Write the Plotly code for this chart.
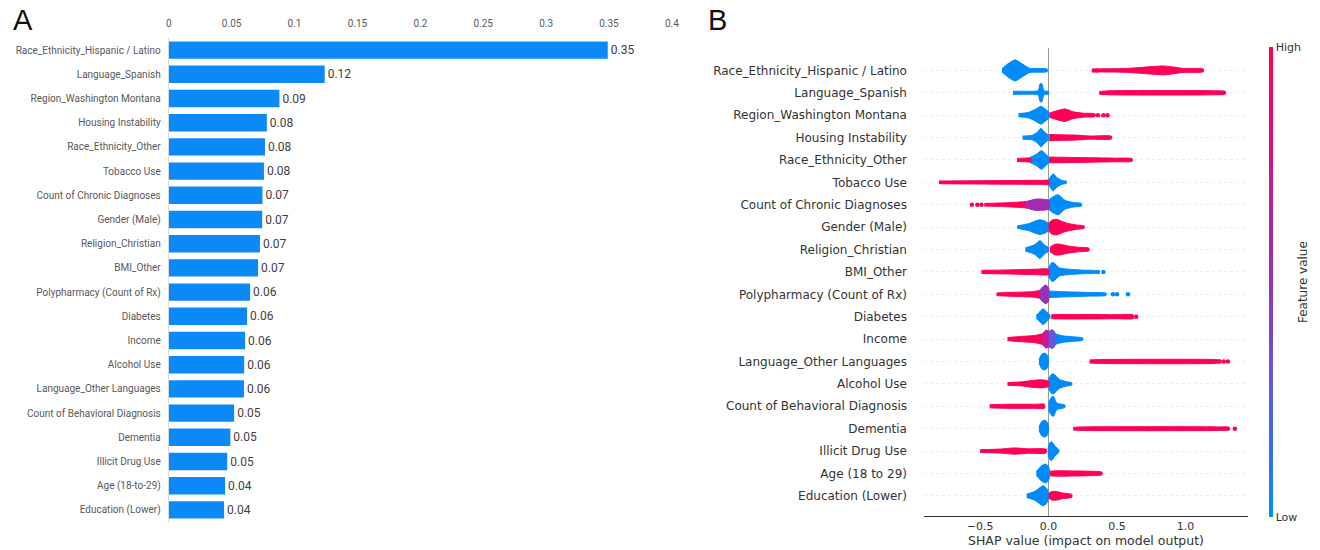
import plotly.graph_objects as go
from plotly.colors import sample_colorscale

# ---------------- Panel A data ----------------
features_a = [
    "Race_Ethnicity_Hispanic / Latino", "Language_Spanish", "Region_Washington Montana",
    "Housing Instability", "Race_Ethnicity_Other", "Tobacco Use", "Count of Chronic Diagnoses",
    "Gender (Male)", "Religion_Christian", "BMI_Other", "Polypharmacy (Count of Rx)", "Diabetes",
    "Income", "Alcohol Use", "Language_Other Languages", "Count of Behavioral Diagnosis",
    "Dementia", "Illicit Drug Use", "Age (18-to-29)", "Education (Lower)",
]
importance_a = [0.349, 0.124, 0.088, 0.078, 0.0765, 0.0757, 0.0745, 0.0743, 0.0725, 0.071,
                0.0647, 0.0623, 0.0607, 0.060, 0.0598, 0.052, 0.049, 0.0465, 0.0448, 0.044]
ticks_a = [0, 0.05, 0.1, 0.15, 0.2, 0.25, 0.3, 0.35, 0.4]
ticktext_a = ["0", "0.05", "0.1", "0.15", "0.2", "0.25", "0.3", "0.35", "0.4"]

# ---------------- Panel B data ----------------
features_b = [
    "Race_Ethnicity_Hispanic / Latino", "Language_Spanish", "Region_Washington Montana",
    "Housing Instability", "Race_Ethnicity_Other", "Tobacco Use", "Count of Chronic Diagnoses",
    "Gender (Male)", "Religion_Christian", "BMI_Other", "Polypharmacy (Count of Rx)", "Diabetes",
    "Income", "Language_Other Languages", "Alcohol Use", "Count of Behavioral Diagnosis",
    "Dementia", "Illicit Drug Use", "Age (18 to 29)", "Education (Lower)",
]
ticks_b = [-0.5, 0.0, 0.5, 1.0]
ticktext_b = ["\u22120.5", "0.0", "0.5", "1.0"]

SHAP_SCALE = [[0.0, "#008bfb"], [0.25, "#5a5ee0"], [0.5, "#9632b8"], [0.75, "#d0148c"], [1.0, "#ff0052"]]

# density outlines read from the beeswarm: (feature, feature level, SHAP x knots, half-height knots in rows)
blue_clusters = [
    ("Race_Ethnicity_Hispanic / Latino", 0, [-0.34, -0.30, -0.245, -0.19, -0.14, -0.06, -0.01], [0.07, 0.28, 0.47, 0.28, 0.10, 0.08, 0.06]),
    ("Language_Spanish", 0, [-0.26, -0.10, -0.075, -0.062, -0.048, -0.035, -0.02, 0.0], [0.07, 0.07, 0.10, 0.40, 0.40, 0.10, 0.07, 0.07]),
    ("Region_Washington Montana", 0, [-0.22, -0.15, -0.10, -0.055, -0.02, 0.01], [0.07, 0.12, 0.25, 0.40, 0.25, 0.08]),
    ("Housing Instability", 0, [-0.19, -0.12, -0.08, -0.055, -0.03, 0.0], [0.07, 0.10, 0.25, 0.42, 0.25, 0.10]),
    ("Race_Ethnicity_Other", 0, [-0.14, -0.09, -0.05, -0.02, 0.005], [0.10, 0.25, 0.42, 0.25, 0.10]),
    ("Tobacco Use", 0, [0.0, 0.02, 0.035, 0.06, 0.10, 0.13], [0.10, 0.30, 0.38, 0.22, 0.08, 0.05]),
    ("Count of Chronic Diagnoses", 0, [0.0, 0.03, 0.07, 0.12, 0.18, 0.24], [0.20, 0.35, 0.45, 0.20, 0.10, 0.06]),
    ("Gender (Male)", 0, [-0.23, -0.15, -0.063, -0.02, 0.0], [0.05, 0.15, 0.33, 0.25, 0.15]),
    ("Religion_Christian", 0, [-0.17, -0.10, -0.063, -0.03, 0.0], [0.07, 0.22, 0.40, 0.20, 0.08]),
    ("BMI_Other", 0, [0.0, 0.02, 0.035, 0.08, 0.15, 0.25, 0.35], [0.15, 0.40, 0.42, 0.18, 0.12, 0.08, 0.05]),
    ("Polypharmacy (Count of Rx)", 0, [0.0, 0.03, 0.10, 0.20, 0.30, 0.42], [0.15, 0.14, 0.12, 0.10, 0.08, 0.05]),
    ("Diabetes", 0, [-0.09, -0.06, -0.04, -0.015, 0.01], [0.06, 0.25, 0.35, 0.22, 0.06]),
    ("Income", 0, [0.04, 0.10, 0.18, 0.25], [0.25, 0.15, 0.10, 0.05]),
    ("Language_Other Languages", 0, [-0.07, -0.05, -0.03, -0.01, 0.0], [0.08, 0.32, 0.38, 0.30, 0.08]),
    ("Alcohol Use", 0, [0.0, 0.02, 0.035, 0.08, 0.13, 0.17], [0.20, 0.42, 0.45, 0.20, 0.10, 0.05]),
    ("Count of Behavioral Diagnosis", 0, [0.0, 0.02, 0.035, 0.06, 0.09, 0.12], [0.15, 0.40, 0.45, 0.15, 0.10, 0.05]),
    ("Dementia", 0, [-0.07, -0.05, -0.03, -0.01, 0.0], [0.08, 0.32, 0.38, 0.30, 0.08]),
    ("Illicit Drug Use", 0, [-0.005, 0.01, 0.022, 0.05, 0.075], [0.10, 0.38, 0.42, 0.20, 0.06]),
    ("Age (18 to 29)", 0, [-0.09, -0.05, -0.02, 0.0, 0.01], [0.08, 0.35, 0.42, 0.30, 0.08]),
    ("Education (Lower)", 0, [-0.16, -0.10, -0.04, -0.01, 0.0], [0.07, 0.20, 0.45, 0.30, 0.10]),
]
red_clusters = [
    ("Race_Ethnicity_Hispanic / Latino", 1, [0.33, 0.40, 0.55, 0.67, 0.78, 0.84, 0.90, 0.98, 1.13], [0.06, 0.07, 0.08, 0.13, 0.18, 0.20, 0.16, 0.09, 0.06]),
    ("Language_Spanish", 1, [0.37, 0.45, 1.20, 1.28], [0.06, 0.09, 0.09, 0.06]),
    ("Region_Washington Montana", 1, [0.01, 0.05, 0.12, 0.18, 0.25, 0.34], [0.10, 0.18, 0.28, 0.15, 0.09, 0.06]),
    ("Housing Instability", 1, [0.005, 0.05, 0.20, 0.30, 0.46], [0.14, 0.13, 0.11, 0.07, 0.06]),
    ("Race_Ethnicity_Other", 1, [-0.23, -0.18, -0.13], [0.07, 0.08, 0.08]),
    ("Race_Ethnicity_Other", 1, [0.005, 0.10, 0.30, 0.50, 0.61], [0.13, 0.12, 0.10, 0.08, 0.06]),
    ("Tobacco Use", 1, [-0.80, -0.60, -0.30, -0.05, 0.0], [0.06, 0.07, 0.08, 0.09, 0.09]),
    ("Count of Chronic Diagnoses", 1, [-0.47, -0.40, -0.30, -0.17, -0.10], [0.06, 0.07, 0.09, 0.14, 0.20]),
    ("Gender (Male)", 1, [0.0, 0.02, 0.058, 0.12, 0.20, 0.26], [0.15, 0.30, 0.35, 0.20, 0.10, 0.05]),
    ("Religion_Christian", 1, [0.01, 0.04, 0.07, 0.15, 0.22, 0.295], [0.10, 0.22, 0.25, 0.15, 0.10, 0.06]),
    ("BMI_Other", 1, [-0.49, -0.30, -0.10, 0.0], [0.07, 0.09, 0.12, 0.12]),
    ("Polypharmacy (Count of Rx)", 1, [-0.38, -0.25, -0.12, -0.05], [0.06, 0.09, 0.12, 0.16]),
    ("Diabetes", 1, [0.02, 0.10, 0.30, 0.50, 0.62], [0.09, 0.10, 0.10, 0.09, 0.08]),
    ("Income", 1, [-0.30, -0.20, -0.10, -0.04], [0.07, 0.12, 0.16, 0.22]),
    ("Language_Other Languages", 1, [0.30, 0.40, 1.20, 1.26], [0.07, 0.09, 0.09, 0.06]),
    ("Alcohol Use", 1, [-0.30, -0.20, -0.12, -0.05, 0.0], [0.06, 0.09, 0.15, 0.18, 0.12]),
    ("Count of Behavioral Diagnosis", 1, [-0.43, -0.30, -0.10, -0.03], [0.07, 0.09, 0.09, 0.09]),
    ("Dementia", 1, [0.18, 0.25, 1.25, 1.32], [0.06, 0.08, 0.08, 0.06]),
    ("Illicit Drug Use", 1, [-0.50, -0.35, -0.25, -0.15, -0.015], [0.06, 0.09, 0.14, 0.10, 0.08]),
    ("Age (18 to 29)", 1, [0.01, 0.05, 0.20, 0.30, 0.39], [0.10, 0.12, 0.11, 0.10, 0.06]),
    ("Education (Lower)", 1, [0.0, 0.02, 0.05, 0.10, 0.17], [0.10, 0.18, 0.20, 0.13, 0.06]),
]
mixed_clusters = [
    ("Count of Chronic Diagnoses", 0.55, [-0.17, -0.10, -0.05, 0.0], [0.10, 0.25, 0.25, 0.20]),
    ("Polypharmacy (Count of Rx)", 0.5, [-0.07, -0.04, -0.02, 0.0], [0.15, 0.35, 0.42, 0.30]),
    ("Income", 0.72, [-0.05, -0.02, 0.0], [0.20, 0.40, 0.35]),
    ("Income", 0.3, [0.0, 0.03, 0.05], [0.35, 0.42, 0.25]),
]
dot_feature = ["Race_Ethnicity_Hispanic / Latino", "Race_Ethnicity_Hispanic / Latino", "Language_Spanish",
               "Region_Washington Montana", "Region_Washington Montana", "Region_Washington Montana",
               "Count of Chronic Diagnoses", "Count of Chronic Diagnoses", "Count of Chronic Diagnoses",
               "BMI_Other", "BMI_Other", "Polypharmacy (Count of Rx)", "Polypharmacy (Count of Rx)",
               "Polypharmacy (Count of Rx)", "Diabetes", "Language_Other Languages", "Language_Other Languages",
               "Dementia"]
dot_x = [0.33, 0.355, 1.28, 0.36, 0.40, 0.43, -0.56, -0.52, -0.49, 0.36, 0.40, 0.47, 0.50, 0.58, 0.64, 1.28, 1.31, 1.36]
dot_level = [1, 1, 1, 1, 1, 1, 1, 1, 1, 0, 0, 0, 0, 0, 1, 1, 1, 1]

# ---------------- Figure ----------------
fig = go.Figure()

fig.add_trace(go.Bar(
    x=importance_a, y=features_a, orientation="h",
    marker=dict(color="#0b8af7", line=dict(width=0)),
    texttemplate="%{x:.2f}", textposition="outside", cliponaxis=False,
    textfont=dict(family="Roboto, sans-serif", size=12, color="#404040"),
    xaxis="x", yaxis="y", showlegend=False, hoverinfo="skip",
))

n_b = len(features_b)
def row_of(f):
    return n_b - 1 - features_b.index(f)

for feat, level, xs, hs in blue_clusters + red_clusters + mixed_clusters:
    r = row_of(feat)
    c = sample_colorscale(SHAP_SCALE, [level])[0]
    fig.add_trace(go.Scatter(
        x=list(xs) + list(xs)[::-1],
        y=[r + h for h in hs] + [r - h for h in hs[::-1]],
        mode="lines", fill="toself", fillcolor=c,
        line=dict(color=c, width=1, shape="spline", smoothing=0.6),
        xaxis="x2", yaxis="y2", showlegend=False, hoverinfo="skip",
    ))

fig.add_trace(go.Scatter(
    x=dot_x, y=[row_of(f) for f in dot_feature], mode="markers",
    marker=dict(size=4.5, color=dot_level, colorscale=SHAP_SCALE, cmin=0, cmax=1, line=dict(width=0)),
    xaxis="x2", yaxis="y2", showlegend=False, hoverinfo="skip",
))

# colorbar carrier
fig.add_trace(go.Scatter(
    x=[0], y=[-5], mode="markers",
    marker=dict(size=1, color=[0], colorscale=SHAP_SCALE, cmin=0, cmax=1, showscale=True,
                colorbar=dict(x=1276 / 1320, xanchor="left", xpad=0, y=1 - 282 / 550, yanchor="middle",
                              ypad=0, lenmode="pixels", len=470, thickness=4, outlinewidth=0,
                              tickvals=[0, 1], ticktext=["Low", "High"], ticks="",
                              tickfont=dict(family="DejaVu Sans", size=11, color="#333333"))),
    xaxis="x2", yaxis="y2", showlegend=False, hoverinfo="skip",
))

fig.update_layout(
    width=1320, height=550, autosize=False,
    margin=dict(l=0, r=0, t=0, b=0),
    paper_bgcolor="white", plot_bgcolor="white",
    bargap=0.28,
    xaxis=dict(domain=[167 / 1320, 674 / 1320], range=[0, 0.4], side="top",
               tickvals=ticks_a, ticktext=ticktext_a, showgrid=False, zeroline=False, showline=False,
               ticks="", ticklabelstandoff=8,
               tickfont=dict(family="Roboto, sans-serif", size=10, color="#595959")),
    yaxis=dict(domain=[1 - 522 / 550, 1 - 38 / 550], autorange="reversed", showgrid=False,
               showline=True, linecolor="#d9d9d9", linewidth=1, ticks="", ticklabelstandoff=5,
               tickfont=dict(family="Roboto, sans-serif", size=10, color="#595959")),
    xaxis2=dict(domain=[928 / 1320, 1255 / 1320], range=[-0.91, 1.46], anchor="y2",
                tickvals=ticks_b, ticktext=ticktext_b, showgrid=False,
                zeroline=True, zerolinecolor="#999999", zerolinewidth=1,
                showline=True, linecolor="#333333", linewidth=1, ticks="",
                tickfont=dict(family="DejaVu Sans", size=11, color="#333333")),
    yaxis2=dict(domain=[1 - 516 / 550, 1 - 48 / 550], range=[-0.9, 20], anchor="x2",
                tickvals=list(range(n_b)), ticktext=features_b[::-1],
                showgrid=True, gridcolor="#ededed", griddash="dot", gridwidth=1,
                zeroline=False, showline=False, ticks="", ticklabelstandoff=16,
                tickfont=dict(family="DejaVu Sans", size=12, color="#333333")),
    annotations=[
        dict(text="A", x=8 / 1320, y=1 - 20 / 550, xref="paper", yref="paper", xanchor="left",
             yanchor="middle", showarrow=False, font=dict(family="Liberation Sans, Arial", size=29, color="#111111")),
        dict(text="B", x=708 / 1320, y=1 - 20 / 550, xref="paper", yref="paper", xanchor="left",
             yanchor="middle", showarrow=False, font=dict(family="Liberation Sans, Arial", size=29, color="#111111")),
        dict(text="SHAP value (impact on model output)", x=1091 / 1320, y=0, xref="paper",
             yref="paper", xanchor="center", yanchor="bottom", showarrow=False,
             font=dict(family="DejaVu Sans", size=12.5, color="#333333")),
        dict(text="Feature value", x=1310 / 1320, y=1 - 282 / 550, xref="paper", yref="paper",
             xanchor="center", yanchor="middle", textangle=-90, showarrow=False,
             font=dict(family="DejaVu Sans", size=12, color="#333333")),
    ],
)

fig.write_html("out.html")
